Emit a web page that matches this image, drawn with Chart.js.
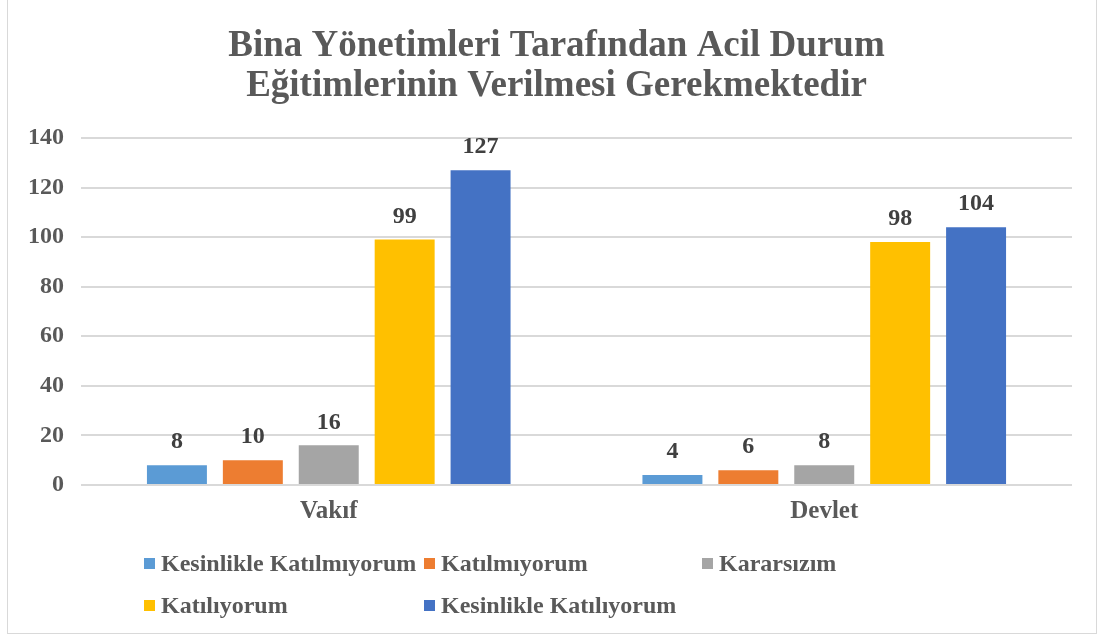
<!DOCTYPE html>
<html lang="tr">
<head>
    <meta charset="UTF-8">
    <title>Bina Yönetimleri Tarafından Acil Durum Eğitimlerinin Verilmesi Gerekmektedir</title>
    <script src="https://cdn.jsdelivr.net/npm/chart.js"></script>
    <style>
        body {
            margin: 0;
            background: #ffffff;
        }
        .frame {
            position: relative;
            width: 1103px;
            height: 640px;
        }
        .border {
            position: absolute;
            left: 7px;
            top: -2px;
            width: 1088px;
            height: 634px;
            border: 1px solid #d9d9d9;
            pointer-events: none;
        }
        #legend {
            position: absolute;
            left: 144px;
            top: 549px;
            display: grid;
            grid-template-columns: 280px 278px 280px;
            row-gap: 14px;
            font-family: "Liberation Serif", "Times New Roman", serif;
            font-weight: bold;
            font-size: 24px;
            color: #595959;
        }
        #legend div {
            display: flex;
            align-items: center;
            white-space: nowrap;
            height: 28px;
        }
        #legend span.box {
            display: inline-block;
            width: 11px;
            height: 11px;
            margin-right: 6px;
        }
    </style>
</head>
<body>
<div class="frame">
    <canvas id="chart" width="1103" height="640"></canvas>
    <div id="legend"></div>
    <div class="border"></div>
</div>

<script>
const titleLines = ['Bina Yönetimleri Tarafından Acil Durum', 'Eğitimlerinin Verilmesi Gerekmektedir'];
const categories = ['Vakıf', 'Devlet'];
const seriesNames = ['Kesinlikle Katılmıyorum', 'Katılmıyorum', 'Kararsızım', 'Katılıyorum', 'Kesinlikle Katılıyorum'];
const seriesColors = ['#5B9BD5', '#ED7D31', '#A5A5A5', '#FFC000', '#4472C4'];
const kesinlikleKatilmiyorum = [8, 4];
const katilmiyorum = [10, 6];
const kararsizim = [16, 8];
const katiliyorum = [99, 98];
const kesinlikleKatiliyorum = [127, 104];
const seriesValues = [kesinlikleKatilmiyorum, katilmiyorum, kararsizim, katiliyorum, kesinlikleKatiliyorum];
const yTicks = [0, 20, 40, 60, 80, 100, 120, 140];

const serif = '"Liberation Serif", "Times New Roman", serif';

// title centred on the whole canvas (the built-in one centres on the padded box)
const centredTitle = {
    id: 'centredTitle',
    afterDraw(chart) {
        const c = chart.ctx;
        c.save();
        c.font = 'bold 37px ' + serif;
        c.fillStyle = '#595959';
        c.textAlign = 'center';
        c.textBaseline = 'middle';
        titleLines.forEach((line, i) => c.fillText(line, chart.width / 2 + 5, 46 + i * 40));
        c.restore();
    }
};

// value labels above each bar
const barLabels = {
    id: 'barLabels',
    afterDatasetsDraw(chart) {
        const c = chart.ctx;
        c.save();
        c.font = 'bold 24px ' + serif;
        c.fillStyle = '#404040';
        c.textAlign = 'center';
        c.textBaseline = 'bottom';
        chart.data.datasets.forEach((ds, i) => {
            chart.getDatasetMeta(i).data.forEach((bar, j) => {
                c.fillText(ds.data[j], bar.x, bar.y - 11);
            });
        });
        c.restore();
    }
};

new Chart(document.getElementById('chart'), {
    type: 'bar',
    data: {
        labels: categories,
        datasets: seriesNames.map((name, i) => ({
            label: name,
            data: seriesValues[i],
            backgroundColor: seriesColors[i],
            barPercentage: 0.79,
            categoryPercentage: 0.766
        }))
    },
    options: {
        responsive: false,
        animation: false,
        layout: {
            padding: { left: 11, right: 31, top: 138, bottom: 101 }
        },
        plugins: {
            legend: { display: false },
            tooltip: { enabled: false },
            title: { display: false }
        },
        scales: {
            x: {
                grid: { display: false, drawTicks: false },
                border: { display: false },
                ticks: {
                    color: '#595959',
                    font: { family: serif, size: 25, weight: 'bold' },
                    padding: 12
                }
            },
            y: {
                min: 0,
                max: 140,
                afterBuildTicks: axis => { axis.ticks = yTicks.map(v => ({ value: v })); },
                grid: { color: '#d9d9d9', lineWidth: 2, drawTicks: false },
                border: { display: false },
                ticks: {
                    color: '#595959',
                    font: { family: serif, size: 24, weight: 'bold' },
                    padding: 17
                }
            }
        }
    },
    plugins: [barLabels, centredTitle]
});

const legendEl = document.getElementById('legend');
seriesNames.forEach((name, i) => {
    const item = document.createElement('div');
    item.innerHTML = '<span class="box" style="background:' + seriesColors[i] + '"></span>' + name;
    legendEl.appendChild(item);
    if (i === 2) legendEl.appendChild(document.createElement('div')).style.display = 'none';
});
</script>
</body>
</html>
